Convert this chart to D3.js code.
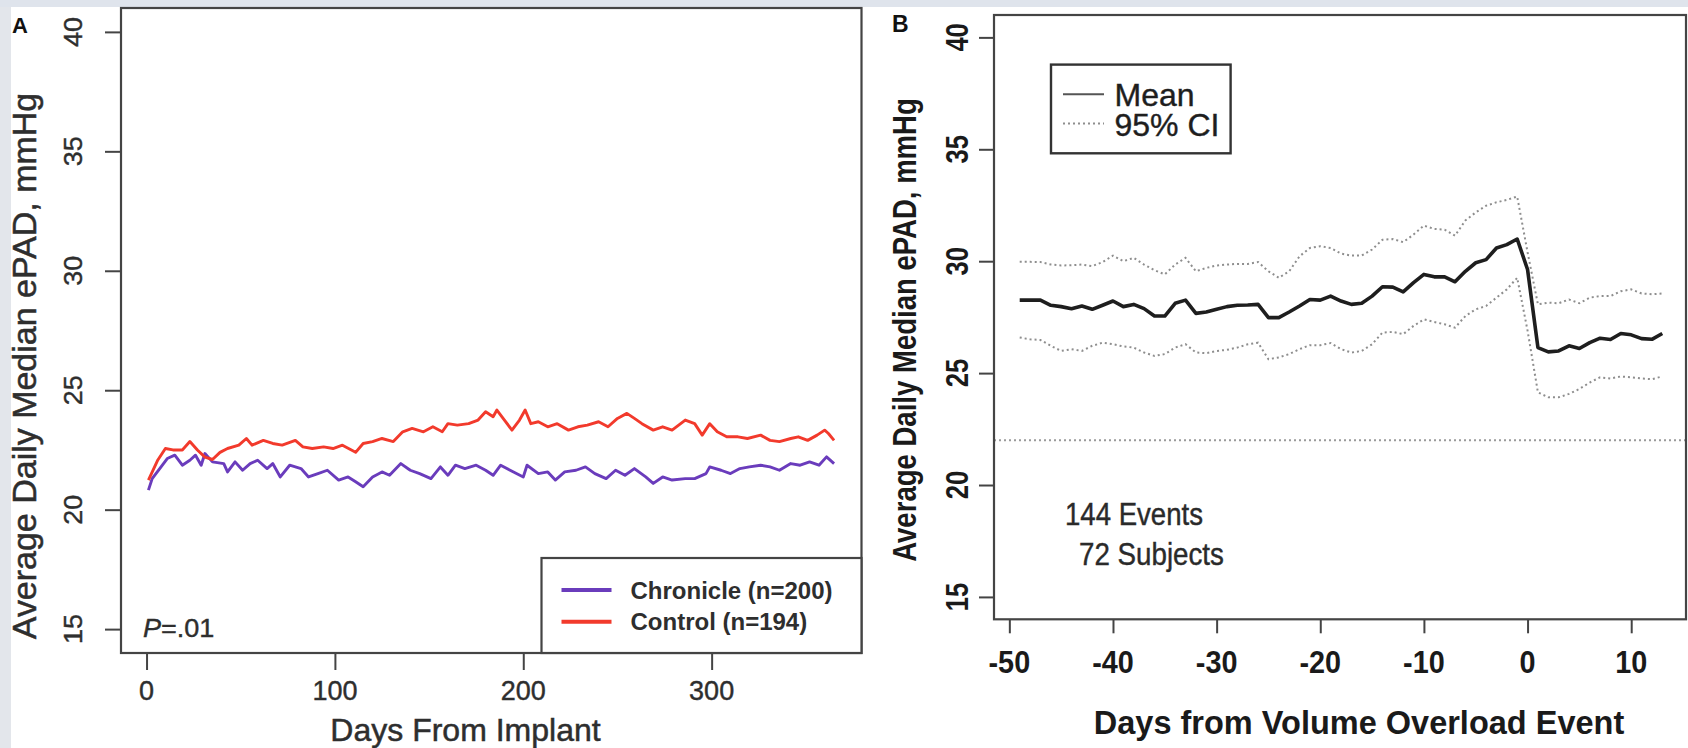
<!DOCTYPE html>
<html>
<head>
<meta charset="utf-8">
<script src="https://cdn.jsdelivr.net/npm/d3@7"></script>
<style>
  html, body { margin: 0; padding: 0; background: #fff; }
  svg { display: block; }
  text { font-family: "Liberation Sans", Arial, Helvetica, sans-serif; }
</style>
</head>
<body>
<svg id="chart" width="1688" height="748"></svg>
<script>
// ---- Panel A: daily ePAD after implant ----
const chronicleDays = [1,3,7,11,15,19,23,26,29,31,35,41,43,47,51,55,59,64,67,71,76,82,86,91,96,102,107,111,115,120,125,129,135,140,145,151,156,160,164,169,175,180,184,188,193,200,202,208,213,217,222,228,233,238,244,249,254,259,265,269,274,279,286,291,297,299,305,310,315,320,326,331,336,342,347,352,357,361,365];
const chronicleValues = [20.82,21.3,21.72,22.14,22.28,21.86,22.07,22.28,21.86,22.35,22.0,21.93,21.58,22.0,21.65,21.93,22.07,21.72,21.93,21.37,21.86,21.72,21.37,21.51,21.65,21.24,21.37,21.17,20.96,21.37,21.58,21.44,21.93,21.65,21.51,21.3,21.79,21.44,21.86,21.72,21.86,21.65,21.44,21.86,21.65,21.37,21.86,21.51,21.58,21.24,21.58,21.65,21.79,21.51,21.3,21.65,21.44,21.72,21.37,21.1,21.37,21.24,21.3,21.3,21.51,21.79,21.65,21.51,21.72,21.79,21.86,21.79,21.65,21.93,21.86,22.0,21.86,22.21,21.93];
const controlDays = [1,6,10,14,19,23,27,31,35,39,43,49,53,56,62,67,72,79,83,88,94,99,104,111,115,120,125,131,136,141,147,152,157,160,165,171,176,180,184,186,190,194,198,201,204,208,213,218,224,229,234,240,245,250,255,259,263,269,274,279,286,291,295,299,303,308,314,319,326,331,336,342,346,351,356,360,362,365];
const controlValues = [21.24,22.08,22.56,22.5,22.5,22.85,22.5,22.2,22.1,22.4,22.56,22.7,22.98,22.7,22.9,22.77,22.7,22.9,22.63,22.56,22.63,22.56,22.7,22.4,22.77,22.85,22.98,22.85,23.26,23.4,23.26,23.47,23.26,23.6,23.54,23.6,23.75,24.1,23.89,24.17,23.75,23.33,23.75,24.17,23.6,23.68,23.47,23.6,23.33,23.47,23.54,23.68,23.47,23.82,24.03,23.82,23.6,23.33,23.47,23.33,23.75,23.6,23.12,23.6,23.26,23.05,23.05,22.98,23.12,22.9,22.85,22.98,23.05,22.9,23.12,23.33,23.19,22.9];
const seriesNamesA = ["Chronicle (n=200)", "Control (n=194)"];
const xTicksA = [0, 100, 200, 300];
const yTicks = [15, 20, 25, 30, 35, 40];

// ---- Panel B: ePAD around volume overload events ----
const eventDays = d3.range(-49, 14);
const meanValues = [28.26,28.26,28.26,28.03,27.97,27.88,28.0,27.85,28.03,28.22,27.97,28.07,27.88,27.55,27.55,28.12,28.26,27.67,27.73,27.85,27.97,28.03,28.04,28.07,27.48,27.48,27.73,28.0,28.29,28.26,28.44,28.22,28.07,28.12,28.44,28.86,28.84,28.63,29.04,29.41,29.3,29.3,29.08,29.55,29.93,30.07,30.59,30.74,30.99,29.63,26.14,25.95,25.99,26.22,26.1,26.36,26.56,26.5,26.77,26.71,26.54,26.51,26.77];
const upperCI = [29.97,29.97,29.96,29.85,29.81,29.82,29.85,29.78,29.96,30.25,30.0,30.15,29.85,29.6,29.41,29.85,30.15,29.55,29.7,29.81,29.85,29.88,29.88,29.96,29.55,29.26,29.55,30.22,30.59,30.67,30.59,30.34,30.25,30.25,30.52,30.96,30.99,30.85,31.19,31.59,31.44,31.41,31.14,31.82,32.18,32.48,32.63,32.74,32.89,30.4,28.07,28.15,28.12,28.29,28.12,28.37,28.44,28.44,28.66,28.74,28.56,28.52,28.56];
const lowerCI = [26.59,26.51,26.48,26.22,25.99,26.07,25.99,26.22,26.36,26.29,26.19,26.14,25.92,25.77,25.85,26.14,26.29,25.92,25.89,25.99,26.04,26.14,26.29,26.36,25.62,25.7,25.85,26.07,26.25,26.25,26.34,26.07,25.92,25.99,26.29,26.81,26.84,26.74,27.11,27.4,27.28,27.18,27.03,27.55,27.85,28.0,28.37,28.74,29.26,26.9,24.14,23.92,23.92,24.07,24.29,24.58,24.81,24.76,24.85,24.81,24.76,24.73,24.85];
const referenceLevel = 22;
const xTicksB = [-50, -40, -30, -20, -10, 0, 10];
const legendNamesB = ["Mean", "95% CI"];
const annotationB = ["144 Events", "72 Subjects"];

const svg = d3.select("#chart");

// slide backdrop around the figure
svg.append("rect").attr("x", 0).attr("y", 0).attr("width", 1688).attr("height", 7).attr("fill", "#dfe4ec");
svg.append("rect").attr("x", 0).attr("y", 7).attr("width", 11).attr("height", 741).attr("fill", "#e3e6eb");

// text helper: position, rotation and horizontal stretch of the glyphs
function label(g, o) {
  const t = g.append("text")
    .attr("transform", `translate(${o.x},${o.y}) rotate(${o.rotate || 0}) scale(${o.sx || 1},1)`)
    .attr("text-anchor", o.anchor || "start")
    .attr("font-size", o.size)
    .attr("font-weight", o.weight || "normal")
    .attr("fill", o.fill || "#222");
  if (o.stroke) t.attr("stroke", o.fill).attr("stroke-width", o.stroke);
  if (o.parts) {
    o.parts.forEach(p => t.append("tspan").attr("font-style", p.italic ? "italic" : "normal").text(p.text));
  } else {
    t.text(o.text);
  }
  return t;
}

// ================= Panel A =================
const gA = svg.append("g");
const xA = d3.scaleLinear().domain([-13.56, 379.56]).range([121, 861.5]);
const yA = d3.scaleLinear().domain([14, 41]).range([653, 8]);
const inkA = "#2e2e2e";

const lineA = d3.line().x(d => xA(d[0])).y(d => yA(d[1]));
const chronicle = chronicleDays.map((d, i) => [d, chronicleValues[i]]);
const control = controlDays.map((d, i) => [d, controlValues[i]]);
const colorsA = ["#6a3cbc", "#f23a2c"];

gA.append("path").datum(chronicle).attr("d", lineA)
  .attr("fill", "none").attr("stroke", colorsA[0]).attr("stroke-width", 2.9).attr("stroke-linejoin", "round");
gA.append("path").datum(control).attr("d", lineA)
  .attr("fill", "none").attr("stroke", colorsA[1]).attr("stroke-width", 2.9).attr("stroke-linejoin", "round");

// axes (ticks outside, labels rotated on y)
const axisAx = gA.append("g").attr("transform", `translate(0,${yA.range()[0]})`)
  .call(d3.axisBottom(xA).tickValues(xTicksA).tickSize(17).tickFormat(""));
const axisAy = gA.append("g").attr("transform", `translate(${xA.range()[0]},0)`)
  .call(d3.axisLeft(yA).tickValues(yTicks).tickSize(16).tickFormat(""));
[axisAx, axisAy].forEach(a => {
  a.select(".domain").remove();
  a.selectAll("line").attr("stroke", "#444").attr("stroke-width", 2);
});
xTicksA.forEach(v => label(gA, { x: xA(v), y: 700, text: String(v), size: 27, anchor: "middle", fill: inkA, stroke: 0.4 }));
yTicks.forEach(v => label(gA, { x: 82, y: yA(v), text: String(v), size: 25, anchor: "middle", rotate: -90, sx: 1.08, fill: inkA, stroke: 0.4 }));

// plot frame
gA.append("rect").attr("x", xA.range()[0]).attr("y", yA.range()[1])
  .attr("width", xA.range()[1] - xA.range()[0]).attr("height", yA.range()[0] - yA.range()[1])
  .attr("fill", "none").attr("stroke", "#444").attr("stroke-width", 2.2);

// legend
const legA = gA.append("g");
legA.append("rect").attr("x", 541.5).attr("y", 558).attr("width", 861.5 - 541.5).attr("height", 653 - 558)
  .attr("fill", "#fff").attr("stroke", "#444").attr("stroke-width", 2.2);
seriesNamesA.forEach((name, i) => {
  const ly = 590 + i * 31.7;
  legA.append("line").attr("x1", 561.5).attr("x2", 611.5).attr("y1", ly).attr("y2", ly)
    .attr("stroke", colorsA[i]).attr("stroke-width", 4);
  label(legA, { x: 630.5, y: ly + 8.5, text: name, size: 24, weight: "bold", fill: "#2e2e2e" });
});

label(gA, { x: 143, y: 637, parts: [{ text: "P", italic: true }, { text: "=.01" }], size: 26, sx: 1.04, fill: inkA, stroke: 0.4 });
label(gA, { x: 465.5, y: 741, text: "Days From Implant", size: 32, anchor: "middle", fill: inkA, stroke: 0.5 });
label(gA, { x: 36, y: 366, text: "Average Daily Median ePAD, mmHg", size: 33, anchor: "middle", rotate: -90, sx: 1.03, fill: inkA, stroke: 0.5 });
label(gA, { x: 12, y: 33, text: "A", size: 22, weight: "bold", fill: "#111" });

// ================= Panel B =================
const gB = svg.append("g");
const xB = d3.scaleLinear().domain([-51.48, 15.48]).range([994, 1688]);
const yB = d3.scaleLinear().domain([14, 41]).range([619.3, 15]);
const boxRightB = 1686;

const lineB = d3.line().x(d => xB(d[0])).y(d => yB(d[1]));

// reference level
gB.append("line").attr("x1", xB.range()[0]).attr("x2", boxRightB)
  .attr("y1", yB(referenceLevel)).attr("y2", yB(referenceLevel))
  .attr("stroke", "#9a9a9a").attr("stroke-width", 2).attr("stroke-dasharray", "2,3");

[upperCI, lowerCI].forEach(arr => {
  gB.append("path").datum(eventDays.map((d, i) => [d, arr[i]])).attr("d", lineB)
    .attr("fill", "none").attr("stroke", "#8e8e8e").attr("stroke-width", 2).attr("stroke-dasharray", "2,3");
});
gB.append("path").datum(eventDays.map((d, i) => [d, meanValues[i]])).attr("d", lineB)
  .attr("fill", "none").attr("stroke", "#1e1e1e").attr("stroke-width", 3.6).attr("stroke-linejoin", "round");

const axisBx = gB.append("g").attr("transform", `translate(0,${yB.range()[0]})`)
  .call(d3.axisBottom(xB).tickValues(xTicksB).tickSize(14).tickFormat(""));
const axisBy = gB.append("g").attr("transform", `translate(${xB.range()[0]},0)`)
  .call(d3.axisLeft(yB).tickValues(yTicks).tickSize(15).tickFormat(""));
[axisBx, axisBy].forEach(a => {
  a.select(".domain").remove();
  a.selectAll("line").attr("stroke", "#444").attr("stroke-width", 2);
});
xTicksB.forEach(v => label(gB, { x: xB(v), y: 673, text: String(v), size: 32, weight: "bold", anchor: "middle", sx: 0.9, fill: "#1a1a1a" }));
yTicks.forEach(v => label(gB, { x: 968, y: yB(v), text: String(v), size: 32, weight: "bold", anchor: "middle", rotate: -90, sx: 0.8, fill: "#1a1a1a" }));

gB.append("rect").attr("x", xB.range()[0]).attr("y", yB.range()[1])
  .attr("width", boxRightB - xB.range()[0]).attr("height", yB.range()[0] - yB.range()[1])
  .attr("fill", "none").attr("stroke", "#444").attr("stroke-width", 2.2);

// legend
const legB = gB.append("g");
legB.append("rect").attr("x", 1051).attr("y", 64.6).attr("width", 179.6).attr("height", 88.7)
  .attr("fill", "#fff").attr("stroke", "#333").attr("stroke-width", 2.4);
legendNamesB.forEach((name, i) => {
  const ly = 94.3 + i * 29.3;
  legB.append("line").attr("x1", 1063).attr("x2", 1104).attr("y1", ly).attr("y2", ly)
    .attr("stroke", i === 0 ? "#555" : "#8e8e8e").attr("stroke-width", 2)
    .attr("stroke-dasharray", i === 0 ? null : "2,3");
  label(legB, { x: 1114.5, y: ly + 12, text: name, size: 32, fill: "#1e1e1e", stroke: 0.4 });
});

label(gB, { x: 1065, y: 524.5, text: annotationB[0], size: 31, sx: 0.89, fill: "#2a2a2a", stroke: 0.4 });
label(gB, { x: 1079, y: 565, text: annotationB[1], size: 31, sx: 0.895, fill: "#2a2a2a", stroke: 0.4 });

label(gB, { x: 1359, y: 734, text: "Days from Volume Overload Event", size: 33, weight: "bold", anchor: "middle", sx: 0.985, fill: "#1a1a1a" });
label(gB, { x: 916, y: 330, text: "Average Daily Median ePAD, mmHg", size: 33, weight: "bold", anchor: "middle", rotate: -90, sx: 0.835, fill: "#1a1a1a" });
label(gB, { x: 892, y: 32, text: "B", size: 23, weight: "bold", fill: "#111" });
</script>
</body>
</html>
